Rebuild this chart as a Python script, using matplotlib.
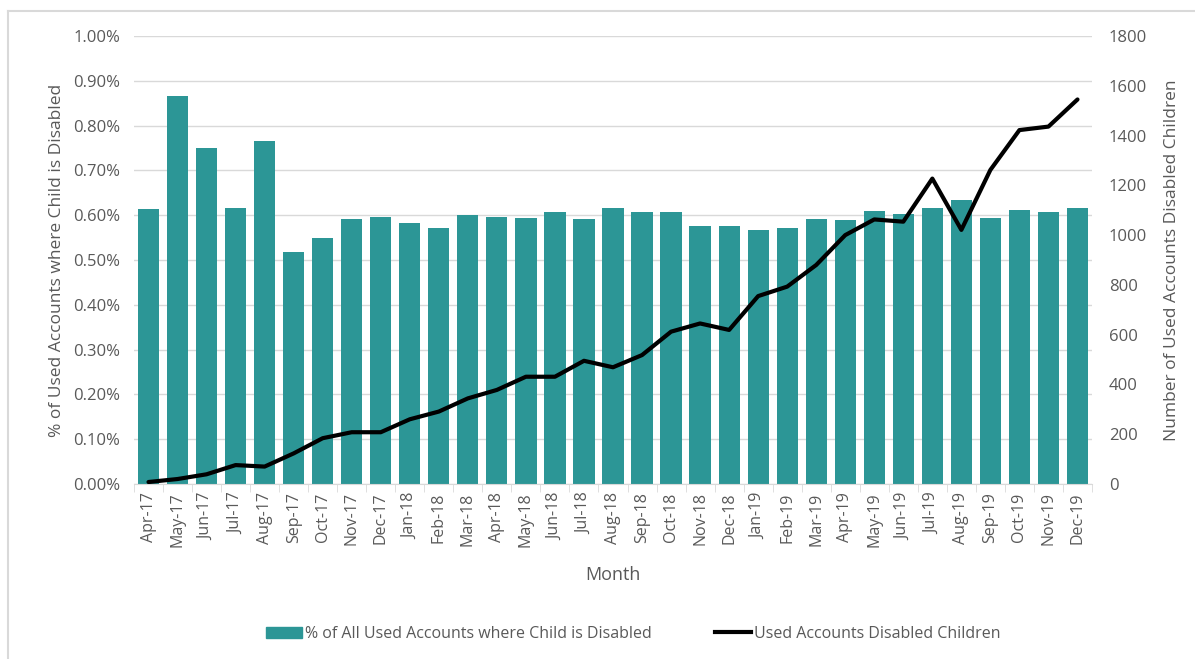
import matplotlib
matplotlib.use('Agg')
import matplotlib.pyplot as plt
import numpy as np
from matplotlib.lines import Line2D
from matplotlib.ticker import FuncFormatter, MultipleLocator

# データ
months = ['Apr-17', 'May-17', 'Jun-17', 'Jul-17', 'Aug-17', 'Sep-17', 'Oct-17', 'Nov-17', 'Dec-17',
          'Jan-18', 'Feb-18', 'Mar-18', 'Apr-18', 'May-18', 'Jun-18', 'Jul-18', 'Aug-18', 'Sep-18',
          'Oct-18', 'Nov-18', 'Dec-18', 'Jan-19', 'Feb-19', 'Mar-19', 'Apr-19', 'May-19', 'Jun-19',
          'Jul-19', 'Aug-19', 'Sep-19', 'Oct-19', 'Nov-19', 'Dec-19']
pct_disabled = [0.613, 0.866, 0.750, 0.615, 0.766, 0.518, 0.548, 0.592, 0.596,
                0.583, 0.571, 0.601, 0.596, 0.594, 0.608, 0.592, 0.617, 0.608,
                0.608, 0.577, 0.577, 0.566, 0.571, 0.592, 0.589, 0.610, 0.603,
                0.617, 0.635, 0.594, 0.612, 0.608, 0.615]
used_disabled = [8, 20, 39, 76, 70, 123, 184, 208, 208,
                 260, 291, 344, 378, 431, 431, 495, 469, 518,
                 612, 645, 619, 755, 793, 880, 1000, 1063, 1054,
                 1227, 1021, 1262, 1422, 1436, 1545]

bar_label = '% of All Used Accounts where Child is Disabled'
line_label = 'Used Accounts Disabled Children'

TEAL = '#2C9696'
GRAY = '#595959'
GRID = '#D9D9D9'

plt.rcParams['font.family'] = ['Open Sans', 'DejaVu Sans']

fig = plt.figure(figsize=(11.95, 6.59), dpi=100)
ax1 = fig.add_axes([134 / 1195, 1 - 484 / 659, (1092 - 134) / 1195, (484 - 36) / 659])
ax2 = ax1.twinx()

x = np.arange(len(months))
ax1.bar(x, pct_disabled, width=0.73, color=TEAL, zorder=2)
ax2.plot(x, used_disabled, color='black', linewidth=3, solid_capstyle='round', zorder=3)

ax1.set_xlim(-0.5, len(months) - 0.5)
ax1.set_ylim(0, 1.0)
ax2.set_ylim(0, 1800)
ax1.yaxis.set_major_locator(MultipleLocator(0.1))
ax2.yaxis.set_major_locator(MultipleLocator(200))
ax1.yaxis.set_major_formatter(FuncFormatter(lambda v, p: f'{v:.2f}%'))

ax1.grid(axis='y', color=GRID, linewidth=1, zorder=0)
ax1.set_axisbelow(True)

for a in (ax1, ax2):
    for s in ('top', 'left', 'right'):
        a.spines[s].set_visible(False)
    a.spines['bottom'].set_color(GRID)
    a.tick_params(axis='y', length=0, colors=GRAY, labelsize=12)
ax2.spines['bottom'].set_visible(False)

ax1.set_xticks(x)
ax1.set_xticklabels(months, rotation=90, fontsize=11.5, color=GRAY)
ax1.tick_params(axis='x', length=0, pad=6)
ax1.set_xticks(np.arange(-0.5, len(months), 1), minor=True)
ax1.tick_params(axis='x', which='minor', length=6, color=GRID)

ax1.set_xlabel('Month', fontsize=13, color=GRAY, labelpad=14)
ax1.set_ylabel('% of Used Accounts where Child is Disabled', fontsize=12.5, color=GRAY, labelpad=6)
ax2.set_ylabel('Number of Used Accounts Disabled Children', fontsize=12.5, color=GRAY, labelpad=12)
ax1.tick_params(axis='y', pad=10)
ax2.tick_params(axis='y', pad=12)

handles = [plt.Rectangle((0, 0), 1, 1, color=TEAL),
           Line2D([0], [0], color='black', linewidth=3)]
fig.legend(handles, [bar_label, line_label], loc='center', bbox_to_anchor=(0.53, 1 - 634 / 659),
           ncol=2, frameon=False, fontsize=11.5, labelcolor=GRAY, columnspacing=4,
           handlelength=2.2, handletextpad=0.2)

# 枠線
fig.add_artist(Line2D([8 / 1195, 8 / 1195], [0, 1 - 11 / 659], transform=fig.transFigure,
                      color=GRID, linewidth=1.5))
fig.add_artist(Line2D([8 / 1195, 1], [1 - 11 / 659, 1 - 11 / 659], transform=fig.transFigure,
                      color=GRID, linewidth=1.5))

fig.savefig('out.png', dpi=100)
